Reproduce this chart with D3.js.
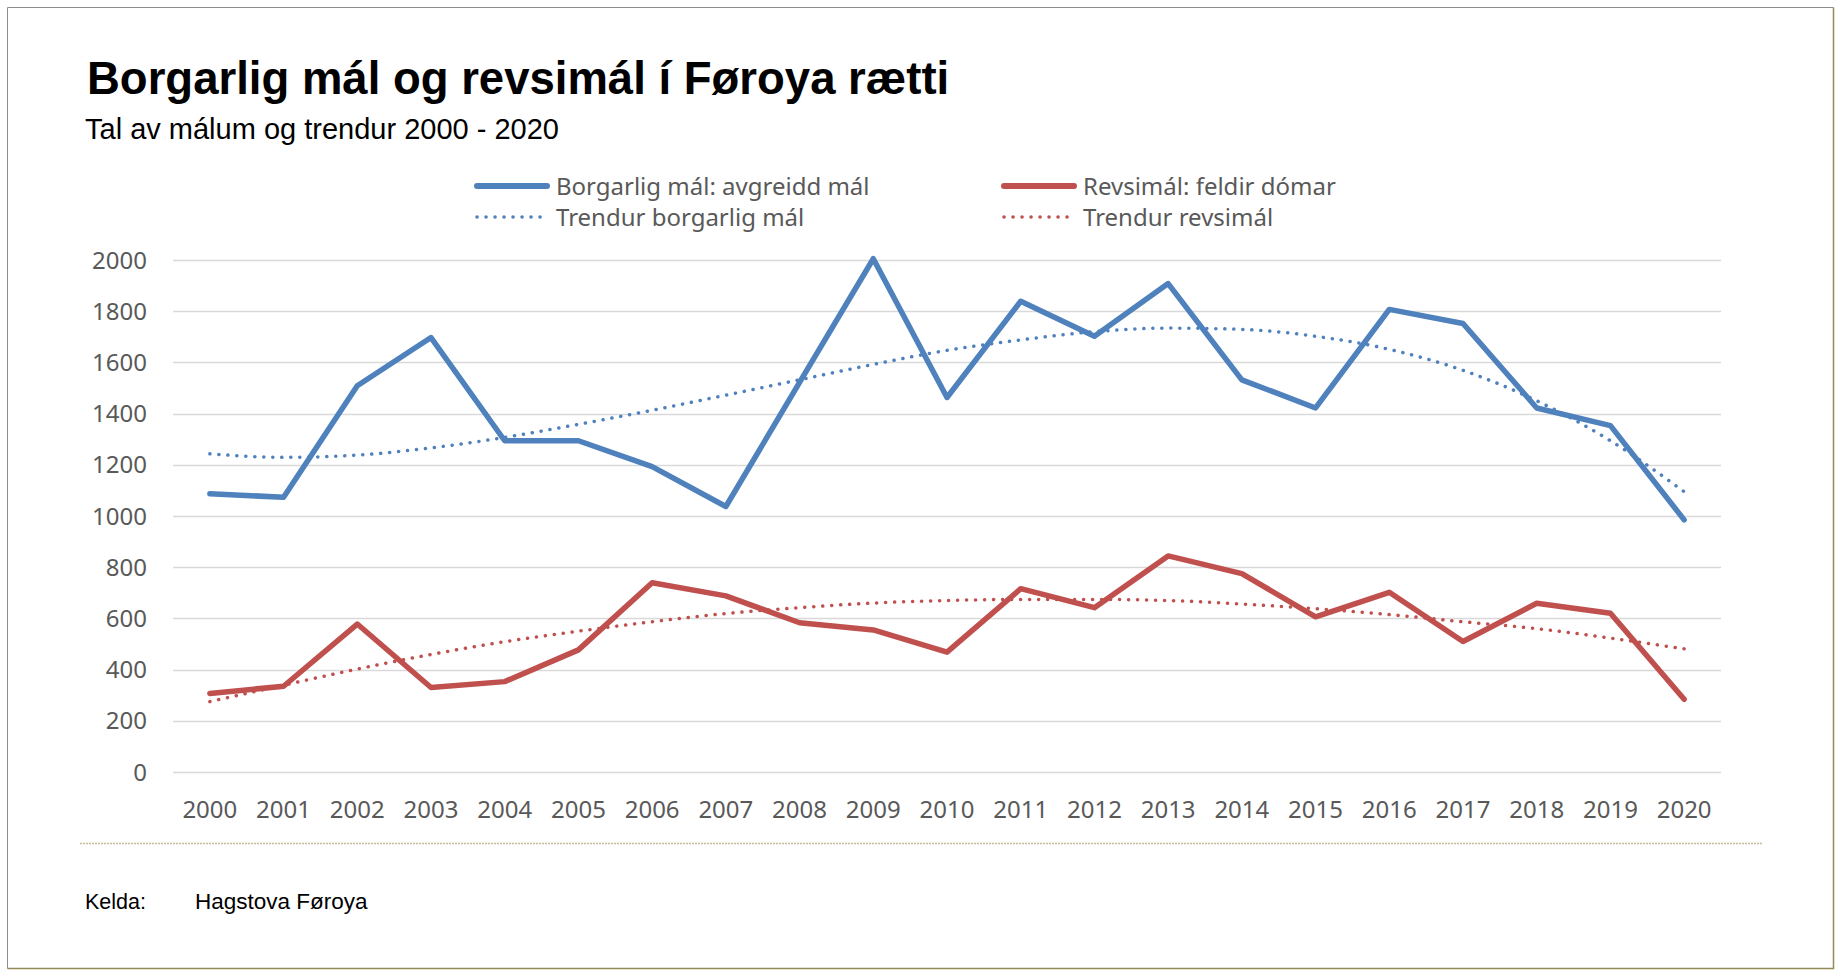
<!DOCTYPE html>
<html lang="fo">
<head>
<meta charset="UTF-8">
<title>Borgarlig mál og revsimál í Føroya rætti</title>
<script src="https://cdnjs.cloudflare.com/ajax/libs/d3/7.8.5/d3.min.js"></script>
<style>
  html, body { margin: 0; padding: 0; background: #fff; }
  svg { display: block; }
</style>
</head>
<body>
<svg id="chart" width="1842" height="976"></svg>
<script>
    // Years on the category axis
    const years = ["2000", "2001", "2002", "2003", "2004", "2005", "2006", "2007", "2008", "2009", "2010",
                   "2011", "2012", "2013", "2014", "2015", "2016", "2017", "2018", "2019", "2020"];

    // Borgarlig mál: avgreidd mál
    const civilCases = [1087, 1073, 1509, 1697, 1294, 1294, 1193, 1037, 1522, 2005, 1463,
                        1839, 1702, 1908, 1532, 1422, 1807, 1752, 1422, 1353, 985];
    // Revsimál: feldir dómar
    const criminalCases = [307, 335, 578, 330, 353, 477, 739, 688, 583, 555, 468,
                           716, 642, 844, 775, 606, 702, 510, 659, 620, 284];
    // Trend lines
    const civilTrend = [1243, 1229, 1238, 1266, 1307, 1358, 1413, 1472, 1532, 1592, 1647,
                        1688, 1720, 1734, 1729, 1702, 1651, 1569, 1450, 1294, 1095];
    const criminalTrend = [275, 339, 402, 459, 509, 550, 587, 619, 642, 660, 670,
                           674, 674, 670, 656, 638, 615, 587, 560, 523, 481];

    const yTicks = [0, 200, 400, 600, 800, 1000, 1200, 1400, 1600, 1800, 2000];

    const legendItems = [
        { label: "Borgarlig mál: avgreidd mál", color: "#4f81bd", dotted: false },
        { label: "Revsimál: feldir dómar", color: "#c0504d", dotted: false },
        { label: "Trendur borgarlig mál", color: "#4f81bd", dotted: true },
        { label: "Trendur revsimál", color: "#c0504d", dotted: true }
    ];

    const svg = d3.select("#chart");
    const axisFont = "'Noto Sans', 'Open Sans', sans-serif";
    const textGrey = "#595959";

    // Outer frame
    svg.append("path")
        .attr("d", "M7.5,968.5 V7.5 H1833.5")
        .attr("fill", "none").attr("stroke", "#8c8c8c").attr("stroke-width", 1);
    svg.append("path")
        .attr("d", "M1833.5,7.5 V968.5 H7.5")
        .attr("fill", "none").attr("stroke", "#948a54").attr("stroke-width", 1.5);

    // Title and subtitle
    svg.append("text")
        .attr("x", 87).attr("y", 94)
        .attr("font-family", "'Liberation Sans', Arial, sans-serif")
        .attr("font-weight", "bold")
        .attr("font-size", 45.5)
        .attr("fill", "#000")
        .text("Borgarlig mál og revsimál í Føroya rætti");

    svg.append("text")
        .attr("x", 85).attr("y", 139)
        .attr("font-family", "'Liberation Sans', Arial, sans-serif")
        .attr("font-size", 29)
        .attr("fill", "#000")
        .text("Tal av málum og trendur 2000 - 2020");

    // Scales
    const x = d3.scaleBand().domain(years).range([173, 1721]);
    const y = d3.scaleLinear().domain([0, 2000]).range([772, 260]);
    const cx = d => x(d) + x.bandwidth() / 2;

    // Gridlines
    svg.append("g")
        .selectAll("line")
        .data(yTicks)
        .enter()
        .append("line")
        .attr("x1", 173).attr("x2", 1721)
        .attr("y1", d => Math.round(y(d)) + 0.5)
        .attr("y2", d => Math.round(y(d)) + 0.5)
        .attr("stroke", "#d9d9d9")
        .attr("stroke-width", 1.5);

    // Y axis labels
    svg.append("g")
        .selectAll("text")
        .data(yTicks)
        .enter()
        .append("text")
        .attr("x", 147)
        .attr("y", d => y(d))
        .attr("dy", "0.36em")
        .attr("text-anchor", "end")
        .attr("font-family", axisFont)
        .attr("font-size", 24)
        .attr("fill", textGrey)
        .text(d => d);

    // X axis labels
    svg.append("g")
        .selectAll("text")
        .data(years)
        .enter()
        .append("text")
        .attr("x", d => cx(d))
        .attr("y", 818)
        .attr("text-anchor", "middle")
        .attr("font-family", axisFont)
        .attr("font-size", 24)
        .attr("fill", textGrey)
        .text(d => d);

    // Trend lines (smooth, dotted)
    const trendLine = d3.line()
        .x((d, i) => cx(years[i]))
        .y(d => y(d))
        .curve(d3.curveMonotoneX);

    [[civilTrend, "#4f81bd"], [criminalTrend, "#c0504d"]].forEach(([values, color]) => {
        svg.append("path")
            .datum(values)
            .attr("d", trendLine)
            .attr("fill", "none")
            .attr("stroke", color)
            .attr("stroke-width", 3.5)
            .attr("stroke-linecap", "round")
            .attr("stroke-dasharray", "0.1 8.9");
    });

    // Data lines
    const dataLine = d3.line()
        .x((d, i) => cx(years[i]))
        .y(d => y(d));

    [[civilCases, "#4f81bd"], [criminalCases, "#c0504d"]].forEach(([values, color]) => {
        svg.append("path")
            .datum(values)
            .attr("d", dataLine)
            .attr("fill", "none")
            .attr("stroke", color)
            .attr("stroke-width", 5.5)
            .attr("stroke-linejoin", "round")
            .attr("stroke-linecap", "round");
    });

    // Legend: two columns, two rows
    const legendPos = [
        { x: 477, y: 186 }, { x: 1004, y: 186 },
        { x: 477, y: 217 }, { x: 1004, y: 217 }
    ];
    const legend = svg.append("g")
        .selectAll("g")
        .data(legendItems)
        .enter()
        .append("g")
        .attr("transform", (d, i) => `translate(${legendPos[i].x},${legendPos[i].y})`);

    legend.append("line")
        .attr("x1", 0).attr("x2", 70)
        .attr("stroke", d => d.color)
        .attr("stroke-width", d => d.dotted ? 3.5 : 6)
        .attr("stroke-linecap", "round")
        .attr("stroke-dasharray", d => d.dotted ? "0.1 8.9" : null);

    legend.append("text")
        .attr("x", 79)
        .attr("dy", "0.36em")
        .attr("font-family", axisFont)
        .attr("font-size", 24)
        .attr("fill", textGrey)
        .text(d => d.label);

    // Separator above the source line
    svg.append("line")
        .attr("x1", 80).attr("x2", 1762)
        .attr("y1", 843.5).attr("y2", 843.5)
        .attr("stroke", "#c4bd97")
        .attr("stroke-width", 1.5)
        .attr("stroke-dasharray", "2 1");

    // Source
    svg.append("text")
        .attr("x", 85).attr("y", 909)
        .attr("font-family", "'Liberation Sans', Arial, sans-serif")
        .attr("font-size", 21.5)
        .attr("fill", "#000")
        .text("Kelda:");
    svg.append("text")
        .attr("x", 195).attr("y", 909)
        .attr("font-family", "'Liberation Sans', Arial, sans-serif")
        .attr("font-size", 22.5)
        .attr("fill", "#000")
        .text("Hagstova Føroya");
</script>
</body>
</html>
